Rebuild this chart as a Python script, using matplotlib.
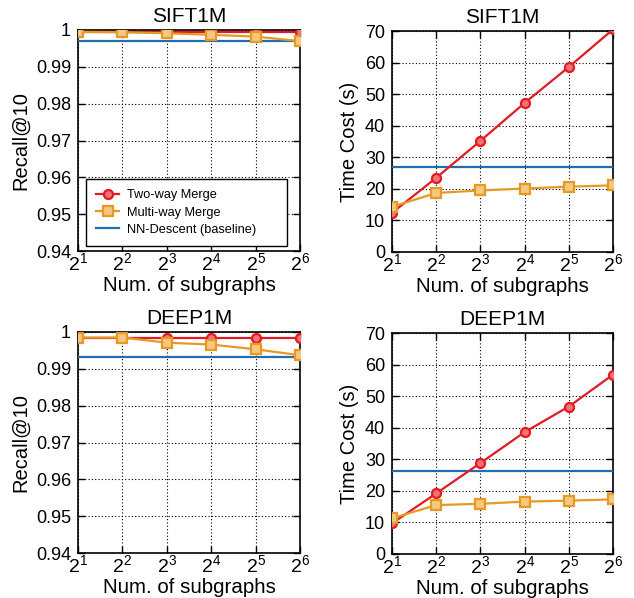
import matplotlib
matplotlib.use("Agg")
import matplotlib.pyplot as plt

plt.rcParams['font.family'] = ['Liberation Sans', 'DejaVu Sans']
plt.rcParams['mathtext.fontset'] = 'custom'
plt.rcParams['mathtext.rm'] = 'Liberation Sans'
plt.rcParams['mathtext.it'] = 'Liberation Sans:italic'

subgraphs = [2, 4, 8, 16, 32, 64]
xtick_labels = [r'$\mathregular{2^{1}}$', r'$\mathregular{2^{2}}$', r'$\mathregular{2^{3}}$',
                r'$\mathregular{2^{4}}$', r'$\mathregular{2^{5}}$', r'$\mathregular{2^{6}}$']

sift_recall_two = [0.99955, 0.99955, 0.99955, 0.99955, 0.99955, 0.99955]
sift_recall_multi = [0.9995, 0.9994, 0.9991, 0.9987, 0.9982, 0.9970]
sift_recall_base = 0.9971
sift_time_two = [12.4, 23.5, 35.2, 47.2, 58.6, 70.5]
sift_time_multi = [14.3, 18.7, 19.5, 20.1, 20.7, 21.1]
sift_time_base = 26.9

deep_recall_two = [0.9985, 0.9985, 0.9985, 0.9985, 0.9985, 0.9985]
deep_recall_multi = [0.9985, 0.9985, 0.9971, 0.9966, 0.9953, 0.9937]
deep_recall_base = 0.9931
deep_time_two = [9.7, 19.2, 28.8, 38.6, 46.7, 56.8]
deep_time_multi = [11.3, 15.5, 15.9, 16.6, 16.9, 17.3]
deep_time_base = 26.4

recall_ticks = [0.94, 0.95, 0.96, 0.97, 0.98, 0.99, 1.0]
recall_tick_labels = ['0.94', '0.95', '0.96', '0.97', '0.98', '0.99', '1']
time_ticks = [0, 10, 20, 30, 40, 50, 60, 70]

RED = '#e41a22'
ORANGE = '#e69a25'
BLUE = '#1f6fb0'

W, H = 634, 598
fig = plt.figure(figsize=(W / 100, H / 100), dpi=100)

def rect(l, t, r, b):
    return [l / W, 1 - b / H, (r - l) / W, (b - t) / H]

axes_specs = [
    (rect(78, 30, 300, 251), 'SIFT1M', 'Recall@10', sift_recall_two, sift_recall_multi, sift_recall_base, 'recall'),
    (rect(392, 31, 613, 252), 'SIFT1M', 'Time Cost (s)', sift_time_two, sift_time_multi, sift_time_base, 'time'),
    (rect(78, 332, 300, 553), 'DEEP1M', 'Recall@10', deep_recall_two, deep_recall_multi, deep_recall_base, 'recall'),
    (rect(392, 333, 613, 554), 'DEEP1M', 'Time Cost (s)', deep_time_two, deep_time_multi, deep_time_base, 'time'),
]

for i, (r, title, ylabel, two, multi, base, kind) in enumerate(axes_specs):
    ax = fig.add_axes(r)
    ax.set_xscale('log', base=2)
    ax.set_xlim(subgraphs[0], subgraphs[-1])
    ax.plot(subgraphs, two, color=RED, lw=1.6, marker='o', ms=6.5,
            mfc=(0.95, 0.45, 0.45), mec=RED, mew=1.6, label='Two-way Merge', zorder=4)
    ax.plot(subgraphs, multi, color=ORANGE, lw=1.6, marker='s', ms=6.5,
            mfc=(0.96, 0.78, 0.5), mec=ORANGE, mew=1.6, label='Multi-way Merge', zorder=5)
    ax.axhline(base, color=BLUE, lw=1.6, label='NN-Descent (baseline)', zorder=3)
    ax.set_xticks(subgraphs)
    ax.set_xticklabels(xtick_labels)
    ax.minorticks_off()
    if kind == 'recall':
        ax.set_ylim(0.94, 1.0)
        ax.set_yticks(recall_ticks)
        ax.set_yticklabels(recall_tick_labels)
    else:
        ax.set_ylim(0, 70)
        ax.set_yticks(time_ticks)
    ax.grid(True, color='black', linestyle=(0, (1, 2)), lw=0.8)
    ax.tick_params(direction='in', top=True, right=True, length=5, width=1.0)
    ax.tick_params(axis='y', labelsize=13, pad=5)
    ax.tick_params(axis='x', labelsize=14, pad=1)
    for s in ax.spines.values():
        s.set_linewidth(1.2)
    ax.set_title(title, fontsize=15, pad=6)
    ax.set_ylabel(ylabel, fontsize=14.5, labelpad=4)
    ax.set_xlabel('Num. of subgraphs', fontsize=14.8, labelpad=1)
    if i == 0:
        leg = ax.legend(loc='lower left', bbox_to_anchor=(0.036, 0.023, 0.905, 0.3),
                        mode='expand', fontsize=9.2, handlelength=1.8, handletextpad=0.6,
                        borderpad=0.8, labelspacing=0.4, borderaxespad=0,
                        fancybox=False, framealpha=1, edgecolor='black')
        leg.get_frame().set_linewidth(1.0)

fig.savefig('out.png', dpi=100)
